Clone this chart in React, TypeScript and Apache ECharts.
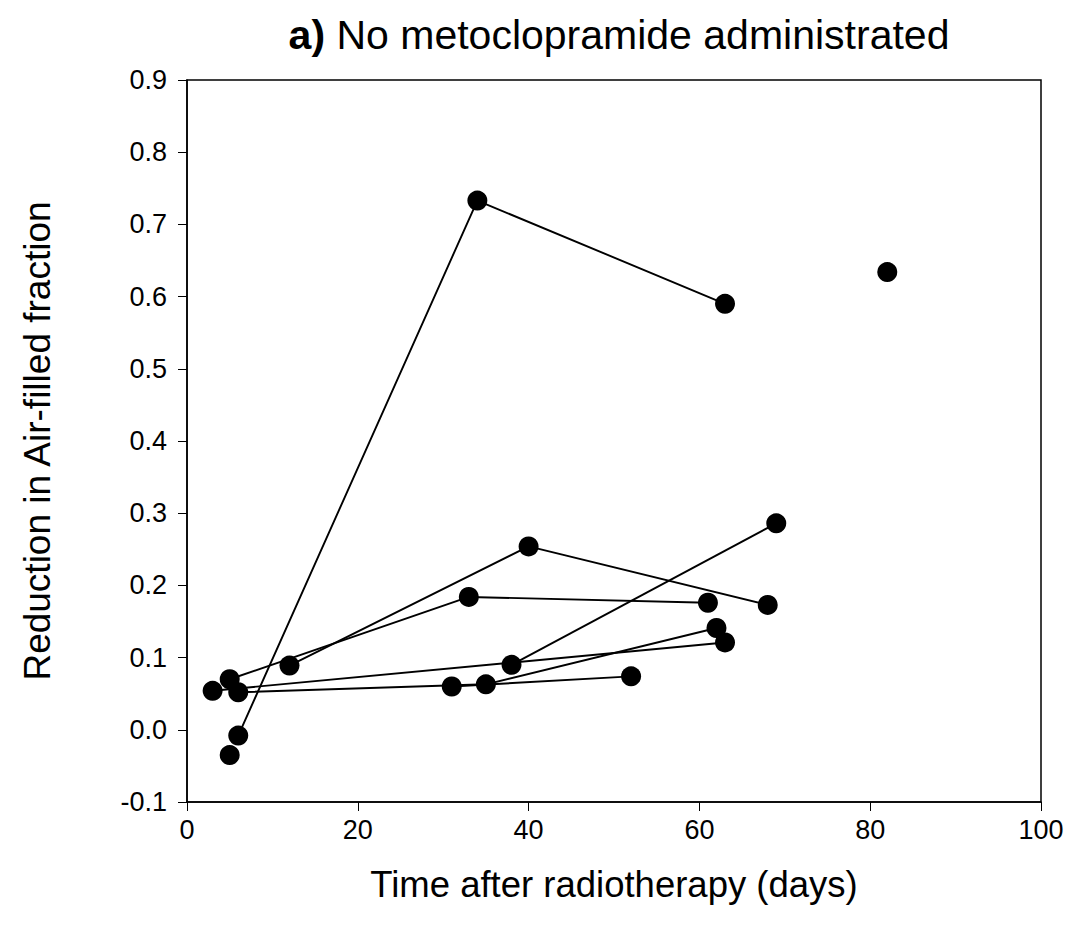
import React, { useEffect, useRef } from "react";
import * as echarts from "echarts";

// Each patient's measurements: [days after radiotherapy, reduction in air-filled fraction]
const patientA: [number, number][] = [[6, -0.008], [34, 0.733], [63, 0.59]];
const patientB: [number, number][] = [[5, 0.07], [33, 0.184], [61, 0.176]];
const patientC: [number, number][] = [[12, 0.089], [40, 0.254], [68, 0.173]];
const patientD: [number, number][] = [[3, 0.054], [63, 0.121]];
const patientE: [number, number][] = [[38, 0.09], [69, 0.286]];
const patientF: [number, number][] = [[6, 0.052], [35, 0.063], [62, 0.141]];
const patientG: [number, number][] = [[31, 0.06], [52, 0.074]];
const singlePoints: [number, number][] = [[5, -0.035], [82, 0.634]];

const patients = [patientA, patientB, patientC, patientD, patientE, patientF, patientG];

const xTicks = { min: 0, max: 100, interval: 20 };
const yTicks = { min: -0.1, max: 0.9, interval: 0.1 };

const FONT = "'Liberation Sans', Arial, sans-serif";

export default function App() {
  const ref = useRef<HTMLDivElement>(null);
  useEffect(() => {
    if (!ref.current) return;
    const chart = echarts.init(ref.current, null, { renderer: "svg" });
    const series: any[] = patients.map((p) => ({
      type: "line",
      data: p,
      symbol: "circle",
      symbolSize: 20,
      itemStyle: { color: "#000", opacity: 1 },
      lineStyle: { color: "#000", width: 1.9 },
      z: 3,
    }));
    series.push({
      type: "scatter",
      data: singlePoints,
      symbol: "circle",
      symbolSize: 20,
      itemStyle: { color: "#000", opacity: 1 },
      z: 3,
    });
    chart.setOption({
      animation: false,
      backgroundColor: "#fff",
      title: {
        text: "{b|a)} No metoclopramide administrated",
        left: 614,
        textAlign: "center",
        top: 9,
        textStyle: {
          fontFamily: FONT,
          fontSize: 41,
          fontWeight: "normal",
          color: "#000",
          rich: {
            b: { fontFamily: FONT, fontSize: 41, fontWeight: "bold", color: "#000" },
          },
        },
      },
      grid: {
        left: 187,
        right: 45,
        top: 80,
        bottom: 136,
        show: true,
        borderColor: "#000",
        borderWidth: 1.5,
        backgroundColor: "transparent",
      },
      xAxis: {
        type: "value",
        min: xTicks.min,
        max: xTicks.max,
        interval: xTicks.interval,
        name: "Time after radiotherapy (days)",
        nameLocation: "middle",
        nameGap: 64,
        nameTextStyle: { fontFamily: FONT, fontSize: 36.5, color: "#000" },
        axisLine: { show: true, onZero: false, lineStyle: { color: "#000", width: 1.5 } },
        axisTick: { show: true, inside: false, length: 9, lineStyle: { color: "#000", width: 1 } },
        axisLabel: { fontFamily: FONT, fontSize: 27, color: "#000", margin: 14 },
        splitLine: { show: false },
      },
      yAxis: {
        type: "value",
        min: yTicks.min,
        max: yTicks.max,
        interval: yTicks.interval,
        name: "Reduction in Air-filled fraction",
        nameLocation: "middle",
        nameGap: 131,
        nameTextStyle: { fontFamily: FONT, fontSize: 37, color: "#000" },
        axisLine: { show: true, onZero: false, lineStyle: { color: "#000", width: 1.5 } },
        axisTick: { show: true, inside: false, length: 9, lineStyle: { color: "#000", width: 1 } },
        axisLabel: {
          fontFamily: FONT,
          fontSize: 27,
          color: "#000",
          margin: 20,
          formatter: (v: number) => v.toFixed(1),
        },
        splitLine: { show: false },
      },
      series,
    });
    return () => chart.dispose();
  }, []);
  return (
    <div
      ref={ref}
      style={{ position: "fixed", left: 0, top: 0, width: 1086, height: 938, background: "#fff" }}
    />
  );
}
